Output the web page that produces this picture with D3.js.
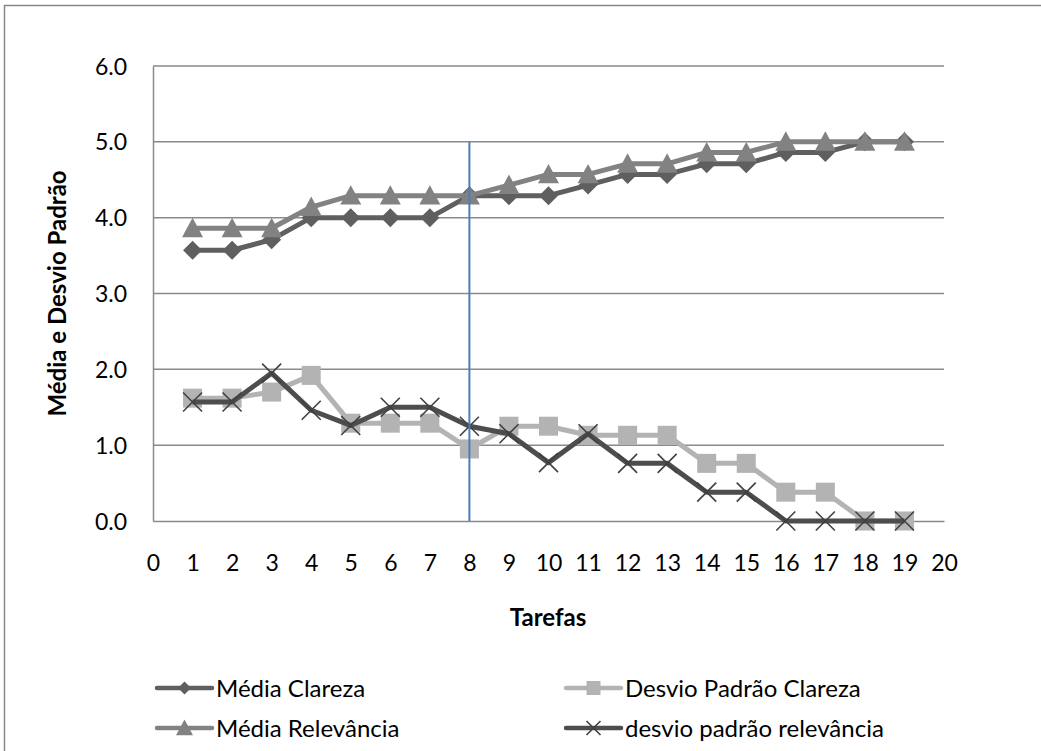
<!DOCTYPE html>
<html><head><meta charset="utf-8">
<script src="https://cdn.jsdelivr.net/npm/d3@7"></script>
<style>body{margin:0;background:#fff}svg{display:block}text{font-family:Lato,"Open Sans",sans-serif;fill:#000}</style>
</head><body><svg id="c" width="1041" height="751"></svg>
<script>
const tarefas = d3.range(1, 20);
const mediaClareza = [3.57,3.57,3.71,4.00,4.00,4.00,4.00,4.29,4.29,4.29,4.43,4.57,4.57,4.71,4.71,4.86,4.86,5.00,5.00];
const desvioClareza = [1.62,1.62,1.70,1.92,1.29,1.29,1.29,0.95,1.25,1.25,1.13,1.13,1.13,0.76,0.76,0.38,0.38,0.00,0.00];
const mediaRelevancia = [3.86,3.86,3.86,4.14,4.29,4.29,4.29,4.29,4.43,4.57,4.57,4.71,4.71,4.86,4.86,5.00,5.00,5.00,5.00];
const desvioRelevancia = [1.57,1.57,1.95,1.46,1.26,1.50,1.50,1.25,1.15,0.77,1.15,0.76,0.76,0.38,0.38,0.00,0.00,0.00,0.00];
const seriesNames = ["Média Clareza","Desvio Padrão Clareza","Média Relevância","desvio padrão relevância"];
const yTicks = [0,1,2,3,4,5,6];
const xTicks = d3.range(0, 21);
const markerLineX = 8;

const svg = d3.select("#c");
const L = 153, R = 944, T = 66, B = 521;
const x = d3.scaleLinear().domain([0,20]).range([L,R]);
const y = d3.scaleLinear().domain([0,6]).range([B,T]);

// outer border (top and left visible)
svg.append("path").attr("d","M4.5,751 V5.5 H1041").attr("fill","none").attr("stroke","#888").attr("stroke-width",1.5);

// gridlines
svg.append("g").selectAll("line").data(yTicks.filter(d=>d>0)).join("line")
  .attr("x1",L).attr("x2",R).attr("y1",d=>y(d)).attr("y2",d=>y(d))
  .attr("stroke","#8a8a8a").attr("stroke-width",1.5);

// axes
const ya = svg.append("g").attr("transform",`translate(${L},0)`)
  .call(d3.axisLeft(y).tickValues(yTicks).tickSize(0).tickPadding(26).tickFormat(d3.format(".1f")));
const xa = svg.append("g").attr("transform",`translate(0,${B})`)
  .call(d3.axisBottom(x).tickValues(xTicks).tickSize(0).tickPadding(50).tickFormat(d3.format("d")));
[ya,xa].forEach(a=>{a.select(".domain").attr("stroke","#8a8a8a").attr("stroke-width",1.5);
  a.selectAll("text").attr("font-size",23).attr("font-family","Lato,sans-serif").attr("fill","#000");});
ya.selectAll("text").attr("dy","0.35em");
xa.selectAll("text").attr("dy","0");

// titles
svg.append("text").attr("transform",`translate(66,${(T+B)/2}) rotate(-90)`).attr("text-anchor","middle")
  .attr("font-size",24).attr("font-weight","bold").text("Média e Desvio Padrão");
svg.append("text").attr("x",548).attr("y",626).attr("text-anchor","middle")
  .attr("font-size",24).attr("font-weight","bold").text("Tarefas");

const line = d3.line().x((d,i)=>x(tarefas[i])).y(d=>y(d));
const styles = [
  {data:mediaClareza, color:"#5f5f5f", w:5, marker:"diamond", mcolor:"#5f5f5f"},
  {data:desvioClareza, color:"#b3b3b3", w:5, marker:"square", mcolor:"#b3b3b3"},
  {data:mediaRelevancia, color:"#828282", w:5, marker:"triangle", mcolor:"#828282"},
  {data:desvioRelevancia, color:"#4d4d4d", w:5, marker:"x", mcolor:"#404040"}
];
function drawMarker(g, type, cx, cy, col, s){
  if(type==="diamond"){
    g.append("path").attr("d",`M${cx},${cy-s} L${cx+s},${cy} L${cx},${cy+s} L${cx-s},${cy} Z`).attr("fill",col);
  } else if(type==="square"){
    g.append("rect").attr("x",cx-s).attr("y",cy-s).attr("width",2*s).attr("height",2*s).attr("fill",col);
  } else if(type==="triangle"){
    g.append("path").attr("d",`M${cx},${cy-s} L${cx+s},${cy+s*0.85} L${cx-s},${cy+s*0.85} Z`).attr("fill",col);
  } else {
    g.append("path").attr("d",`M${cx-s},${cy-s} L${cx+s},${cy+s} M${cx+s},${cy-s} L${cx-s},${cy+s}`)
      .attr("stroke",col).attr("stroke-width",1.6).attr("fill","none");
  }
}
const sizes = {diamond:9.5, square:9.5, triangle:10.5, x:9.5};
styles.forEach(st=>{
  const g = svg.append("g");
  g.append("path").datum(st.data).attr("d",line).attr("fill","none").attr("stroke",st.color)
    .attr("stroke-width",st.w).attr("stroke-linejoin","round");
  st.data.forEach((v,i)=>drawMarker(g, st.marker, x(tarefas[i]), y(v), st.mcolor, sizes[st.marker]));
});

// blue vertical line
svg.append("line").attr("x1",x(markerLineX)).attr("x2",x(markerLineX)).attr("y1",y(5)).attr("y2",y(0))
  .attr("stroke","#4a7ebb").attr("stroke-width",2);

// legend
const legPos = [[157,688],[566,688],[157,728],[566,728]];
const legSizes = {diamond:6.5, square:7, triangle:8.5, x:7};
styles.forEach((st,i)=>{
  const [lx,ly] = legPos[i];
  const g = svg.append("g");
  g.append("line").attr("x1",lx).attr("x2",lx+55).attr("y1",ly).attr("y2",ly)
    .attr("stroke",st.color).attr("stroke-width",4.5).attr("stroke-linecap","round");
  drawMarker(g, st.marker, lx+27.5, ly, st.mcolor, legSizes[st.marker]);
  g.append("text").attr("x",lx+59).attr("y",ly).attr("dy","0.36em").attr("font-size",24).text(seriesNames[i]);
});
</script></body></html>
